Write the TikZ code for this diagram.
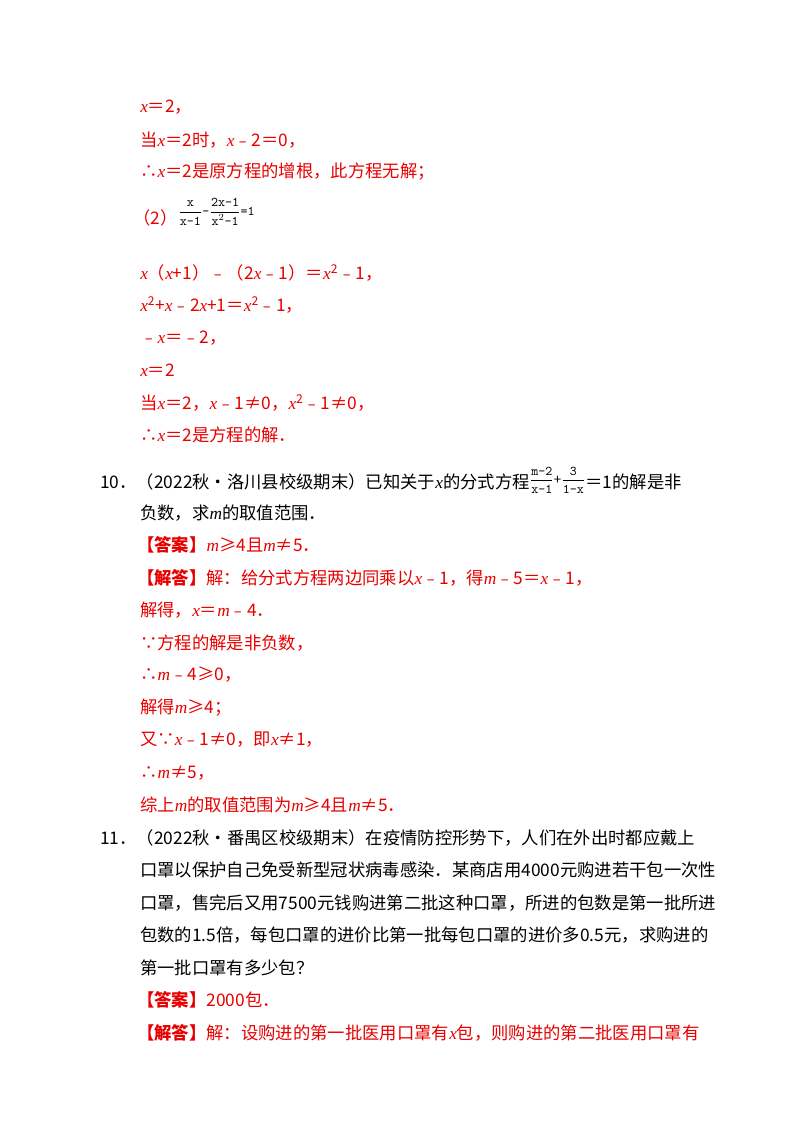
\documentclass[tikz,border=0pt]{standalone}
\usepackage{fontspec}
\setmainfont{Liberation Serif}
\newfontfamily\cjk{Noto Sans CJK SC}
\definecolor{rd}{RGB}{232,0,0}
\newcommand{\vx}{{\rmfamily\itshape x}}
\newcommand{\vm}{{\rmfamily\itshape m}}
\newcommand{\tf}[2]{$\displaystyle\frac{\texttt{#1}}{\texttt{#2}}$}
\begin{document}
\begin{tikzpicture}[x=0.75pt,y=-0.75pt,
 ln/.style={anchor=west,inner sep=0pt,font=\fontsize{13}{15}\selectfont\cjk},
 red/.style={ln,text=rd},blk/.style={ln,text=black}]
\useasboundingbox (0,0) rectangle (800,1132);
\node[red] (a1) at (140,107) {\vx{}＝2，};
\node[red] (a2) at (140,140) {当\vx{}＝2时，\vx{}﹣2＝0，};
\node[red] (a3) at (140,172) {∴\vx{}＝2是原方程的增根，此方程无解；};
\node[red] (a4) at (133,218) {（2）};
\node[blk,anchor=west] (f1) at (178,212) {\fontsize{10}{12}\selectfont\ttfamily \tf{x}{x-1}-\tf{2x-1}{x$^2$-1}=1};
\node[red] (b1) at (140,273) {\vx{}（\vx{}+1）﹣（2\vx{}﹣1）＝\vx{}\textsuperscript{2}﹣1，};
\node[red] (b2) at (140,305) {\vx{}\textsuperscript{2}+\vx{}﹣2\vx{}+1＝\vx{}\textsuperscript{2}﹣1，};
\node[red] (b3) at (140,338) {﹣\vx{}＝﹣2，};
\node[red] (b4) at (140,370) {\vx{}＝2};
\node[red] (b5) at (140,403) {当\vx{}＝2，\vx{}﹣1≠0，\vx{}\textsuperscript{2}﹣1≠0，};
\node[red] (b6) at (140,435) {∴\vx{}＝2是方程的解．};
\node[blk] (q10) at (100,480) {10．（2022秋•洛川县校级期末）已知关于\vx{}的分式方程\raisebox{3pt}{\fontsize{10}{12}\selectfont\tf{m-2}{x-1}+\tf{3}{1-x}}＝1的解是非};
\node[blk] (q10b) at (140,513) {负数，求\vm{}的取值范围．};
\node[red] (c1) at (137,545) {\textbf{【答案】}\vm{}≥4且\vm{}≠5．};
\node[red] (c2) at (137,578) {\textbf{【解答】}解：给分式方程两边同乘以\vx{}﹣1，得\vm{}﹣5＝\vx{}﹣1，};
\node[red] (c3) at (140,610) {解得，\vx{}＝\vm{}﹣4．};
\node[red] (c4) at (140,643) {∵方程的解是非负数，};
\node[red] (c5) at (140,675) {∴\vm{}﹣4≥0，};
\node[red] (c6) at (140,708) {解得\vm{}≥4；};
\node[red] (c7) at (140,740) {又∵\vx{}﹣1≠0，即\vx{}≠1，};
\node[red] (c8) at (140,773) {∴\vm{}≠5，};
\node[red] (c9) at (140,805) {综上\vm{}的取值范围为\vm{}≥4且\vm{}≠5．};
\node[blk] (q11) at (100,838) {11．（2022秋•番禺区校级期末）在疫情防控形势下，人们在外出时都应戴上};
\node[blk] (q11b) at (140,870) {口罩以保护自己免受新型冠状病毒感染．某商店用4000元购进若干包一次性};
\node[blk] (q11c) at (140,903) {口罩，售完后又用7500元钱购进第二批这种口罩，所进的包数是第一批所进};
\node[blk] (q11d) at (140,935) {包数的1.5倍，每包口罩的进价比第一批每包口罩的进价多0.5元，求购进的};
\node[blk] (q11e) at (140,968) {第一批口罩有多少包？};
\node[red] (d1) at (137,1000) {\textbf{【答案】}2000包．};
\node[red] (d2) at (137,1033) {\textbf{【解答】}解：设购进的第一批医用口罩有\vx{}包，则购进的第二批医用口罩有};
\end{tikzpicture}
\end{document}
